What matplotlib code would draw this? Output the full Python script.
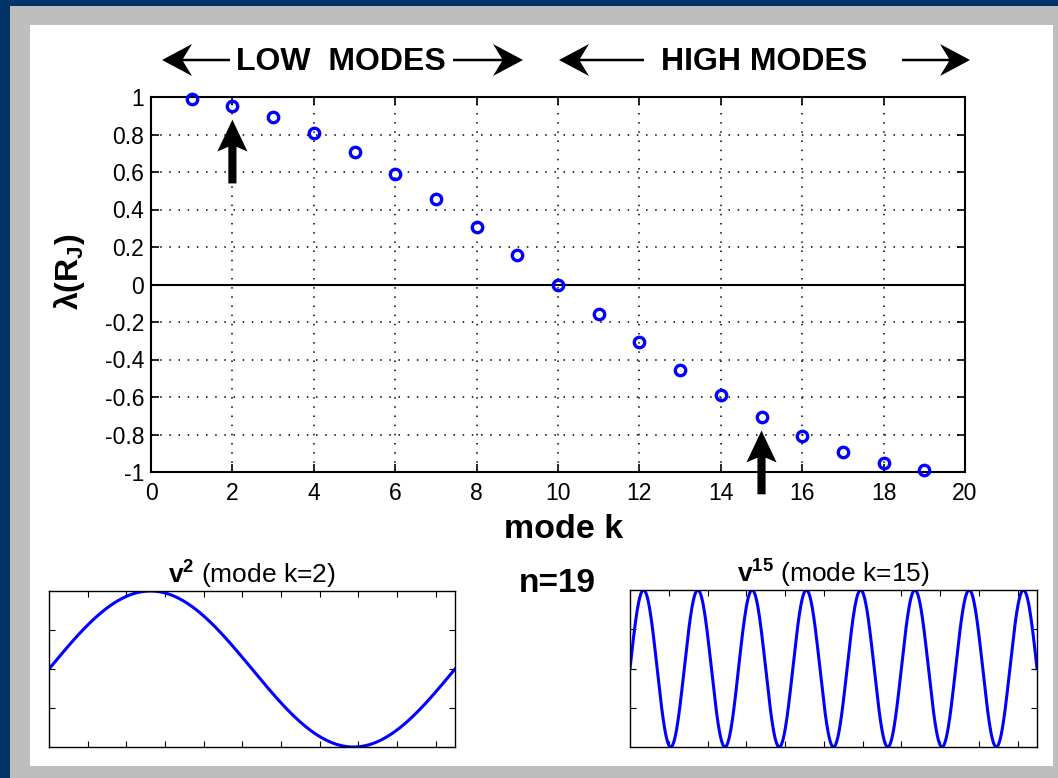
import numpy as np
import matplotlib
matplotlib.use("Agg")
import matplotlib.pyplot as plt
from matplotlib.patches import Rectangle, FancyArrow

plt.rcParams['font.family'] = ['Liberation Sans', 'DejaVu Sans']
plt.rcParams['mathtext.fontset'] = 'custom'
plt.rcParams['mathtext.rm'] = 'Liberation Sans'
plt.rcParams['mathtext.it'] = 'Liberation Sans:italic'
plt.rcParams['mathtext.bf'] = 'Liberation Sans:bold'
plt.rcParams['axes.unicode_minus'] = False

# Eigenvalues of the Jacobi iteration matrix for n = 19
n_points = 19
modes = list(range(1, 20))
eigenvalues = [0.988, 0.951, 0.891, 0.809, 0.707, 0.588, 0.454, 0.309, 0.156, 0.0,
               -0.156, -0.309, -0.454, -0.588, -0.707, -0.809, -0.891, -0.951, -0.988]
x_ticks = [0, 2, 4, 6, 8, 10, 12, 14, 16, 18, 20]
y_ticks = [1, 0.8, 0.6, 0.4, 0.2, 0, -0.2, -0.4, -0.6, -0.8, -1]
y_tick_labels = ['1', '0.8', '0.6', '0.4', '0.2', '0', '-0.2', '-0.4', '-0.6', '-0.8', '-1']

# Modes highlighted with arrows and shown as waveforms below
low_mode = 2
high_mode = 15
wave_length = 21  # horizontal extent of the waveform panels

W, H = 1058, 778
BLUE = '#0000ff'

fig = plt.figure(figsize=(W / 100, H / 100), dpi=100, facecolor='#003366')


def fig_rect(x0, y0, x1, y1):
    """Pixel box (top-left origin) -> figure fraction [left, bottom, width, height]."""
    return [x0 / W, 1 - y1 / H, (x1 - x0) / W, (y1 - y0) / H]


# Background frame drawn in pixel coordinates
bg = fig.add_axes([0, 0, 1, 1], zorder=-1)
bg.set_xlim(0, W)
bg.set_ylim(H, 0)
bg.axis('off')
bg.add_patch(Rectangle((10, 6), W - 10, H - 6, facecolor='#bebebe', edgecolor='none'))
bg.add_patch(Rectangle((30, 25), 1023, 741, facecolor='white', edgecolor='none'))

# Header: LOW MODES / HIGH MODES with arrows
hdr_y = 60
bg.text(341, 70, 'LOW  MODES', ha='center', va='baseline', fontsize=23, fontweight='bold')
bg.text(764, 70, 'HIGH MODES', ha='center', va='baseline', fontsize=23, fontweight='bold')
for x_start, x_tip in [(230, 162), (453, 523), (644, 559), (902, 970)]:
    bg.add_patch(FancyArrow(x_start, hdr_y, x_tip - x_start, 0, width=2.5,
                            head_width=32, head_length=30, overhang=0.3,
                            length_includes_head=True, color='k', lw=0))
bg.text(557, 592, 'n=19', ha='center', va='baseline', fontsize=24, fontweight='bold')

# Main eigenvalue plot
ax = fig.add_axes(fig_rect(151, 97, 965, 472))
ax.set_xlim(0, 20)
ax.set_ylim(-1, 1)
ax.set_xticks(x_ticks)
ax.set_yticks(y_ticks)
ax.set_yticklabels(y_tick_labels)
ax.grid(True, color='k', linestyle=(0, (1, 5)), linewidth=1.1)
ax.set_axisbelow(True)
ax.axhline(0, color='k', lw=1.5, zorder=1)
ax.plot(modes, eigenvalues, 'o', color=BLUE, markerfacecolor='none',
        markersize=7.5, markeredgewidth=2.4, clip_on=False, zorder=3)
for s in ax.spines.values():
    s.set_linewidth(1.5)
ax.tick_params(direction='in', top=True, right=True, length=6, width=1.2,
               labelsize=16.5, pad=7)
ax.tick_params(axis='y', pad=5)

ax.set_xlabel('mode k', fontsize=24.5, fontweight='bold', va='baseline')
ax.xaxis.set_label_coords(0.507, -0.176)
ax.set_ylabel(r'$\mathbf{\lambda(R_J)}$', fontsize=23, va='center')
ax.yaxis.set_label_coords(-0.100, 0.533)

# Arrows pointing at the highlighted modes
arrow_len = 0.34
arrow_gap = 0.072
for k in (low_mode, high_mode):
    tip = eigenvalues[modes.index(k)] - arrow_gap
    ax.add_patch(FancyArrow(k, tip - arrow_len, 0, arrow_len, width=0.2,
                            head_width=0.74, head_length=0.17, overhang=0.15,
                            length_includes_head=True, color='k', lw=0,
                            clip_on=False, zorder=4))

# Waveform panels for the two modes
panels = [(low_mode, fig_rect(49, 591, 455, 747)),
          (high_mode, fig_rect(630, 590, 1037, 747))]
xs = np.linspace(0, wave_length, 800)
for k, rect in panels:
    a = fig.add_axes(rect)
    a.plot(xs, np.sin(k * np.pi * xs / wave_length), color=BLUE, lw=2.2)
    a.set_xlim(0, wave_length)
    a.set_ylim(-1, 1)
    a.set_xticks(range(2, 21, 2))
    a.set_yticks([-0.5, 0, 0.5])
    a.tick_params(direction='in', top=True, right=True, length=4, width=0.8,
                  labelbottom=False, labelleft=False)
    for s in a.spines.values():
        s.set_linewidth(1.0)
    a.set_title(r'$\mathbf{v^{%d}}$ (mode k=%d)' % (k, k), fontsize=19, pad=2)

fig.savefig('out.png', dpi=100, facecolor=fig.get_facecolor())
